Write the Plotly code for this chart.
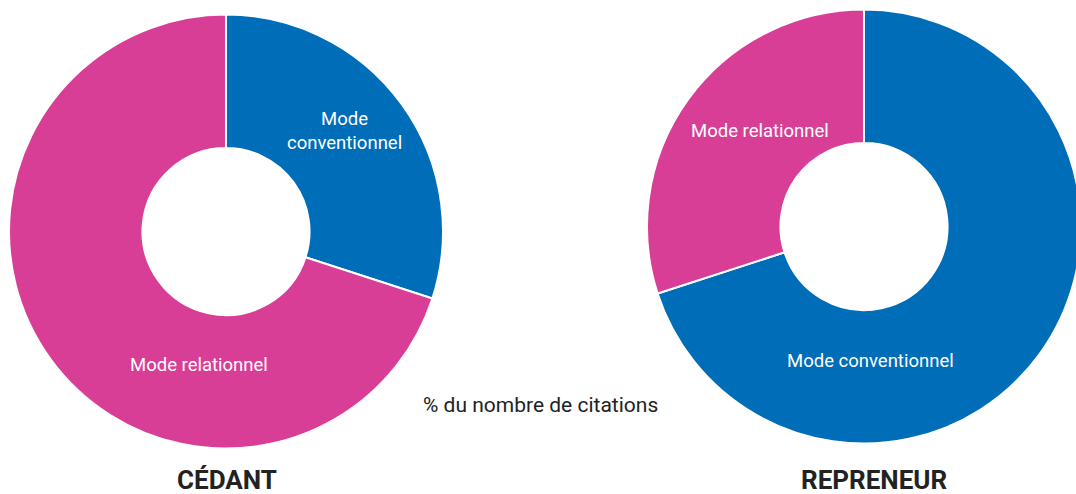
import plotly.graph_objects as go

# Data (% du nombre de citations)
modes = ["Mode conventionnel", "Mode relationnel"]
cedant_values = [30, 70]
repreneur_values = [70, 30]
titles = ["CÉDANT", "REPRENEUR"]
subtitle = "% du nombre de citations"

colors = ["#006DB8", "#D83E96"]
# figure slightly wider than the window: the right donut is cut at the edge
W, H = 1086, 494

fig = go.Figure()

# Cedant donut (left)
fig.add_trace(go.Pie(
    labels=modes, values=cedant_values,
    hole=0.385, sort=False, direction="clockwise", rotation=0,
    marker=dict(colors=colors, line=dict(color="white", width=2)),
    textinfo="none", hoverinfo="label+percent",
    domain=dict(x=[9 / W, 443 / W], y=[1 - 449 / H, 1 - 14 / H]),
    showlegend=False,
))

# Repreneur donut (right)
fig.add_trace(go.Pie(
    labels=modes, values=repreneur_values,
    hole=0.385, sort=False, direction="clockwise", rotation=0,
    marker=dict(colors=colors, line=dict(color="white", width=2)),
    textinfo="none", hoverinfo="label+percent",
    domain=dict(x=[647 / W, 1081 / W], y=[1 - 444 / H, 1 - 9 / H]),
    showlegend=False,
))

# slice labels (white text inside the slices)
lab_font = dict(family="Roboto", size=18.5, color="white")
slice_labels = [
    ("Mode<br>conventionnel", 344, 131),
    ("Mode relationnel", 199, 365),
    ("Mode relationnel", 760, 131),
    ("Mode conventionnel", 870, 361),
]
for txt, px_, py_ in slice_labels:
    fig.add_annotation(text=txt, x=px_ / W, y=1 - py_ / H, xref="paper", yref="paper",
                       xanchor="center", yanchor="middle",
                       showarrow=False, font=lab_font, align="center")

# chart titles under each donut
for txt, px_ in zip(titles, [227, 874]):
    fig.add_annotation(text="<b>" + txt + "</b>", x=px_ / W, y=1 - 480 / H,
                       xref="paper", yref="paper", xanchor="center", yanchor="middle",
                       showarrow=False,
                       font=dict(family="Roboto", size=26, color="#222222"))

fig.add_annotation(text=subtitle, x=540 / W, y=1 - 405 / H, xref="paper", yref="paper",
                   xanchor="center", yanchor="middle", showarrow=False,
                   font=dict(family="Roboto", size=21, color="#222222"))

fig.update_layout(
    width=W, height=H,
    margin=dict(l=0, r=0, t=0, b=0),
    paper_bgcolor="white", plot_bgcolor="white",
    font=dict(family="Roboto"),
)

# no page margin, no scrollbars, no modebar
fig.write_html("out.html", config={"displayModeBar": False},
               post_script="document.body.style.margin='0';document.body.style.overflow='hidden';")
